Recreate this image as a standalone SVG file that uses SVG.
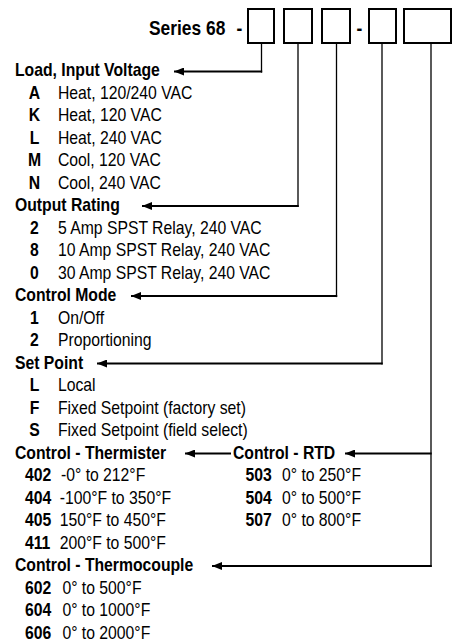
<svg xmlns="http://www.w3.org/2000/svg" width="454" height="642" viewBox="0 0 454 642">
<style>
text{font-family:"Liberation Sans",Arial,sans-serif;font-size:17.5px;fill:#000}
.b{font-weight:bold}
.c{font-weight:bold;text-anchor:middle}
.hdr{font-weight:bold;font-size:19.3px}
.box{fill:#fff;stroke:#000;stroke-width:2}
.v{stroke:#000;stroke-width:1.3;fill:none}
.h{stroke:#000;stroke-width:2.2;fill:none;marker-end:url(#ah)}
</style>
<defs>
<marker id="ah" markerUnits="userSpaceOnUse" viewBox="0 0 10 8" refX="10" refY="4" markerWidth="10" markerHeight="8" orient="auto">
<path d="M0,0 L10,4 L0,8 z" fill="#000"/>
</marker>
</defs>
<rect width="454" height="642" fill="#fff"/>
<g id="header">
<g transform="scale(0.9 1)">
<text class="hdr" x="165.6" y="35">Series 68</text>
<text class="hdr" x="266.1" y="35" text-anchor="middle">-</text>
<text class="hdr" x="399.4" y="35" text-anchor="middle">-</text>
</g>
<rect class="box" x="248" y="9" width="26" height="34"/>
<rect class="box" x="284" y="9" width="28" height="34"/>
<rect class="box" x="322" y="9" width="28" height="34"/>
<rect class="box" x="369" y="9" width="27" height="34"/>
<rect class="box" x="404" y="9" width="47" height="34"/>
</g>
<g id="connectors">
<line class="v" x1="261.5" y1="44" x2="261.5" y2="72.6"/>
<path class="h" d="M262.2,71.5 H174"/>
<line class="v" x1="298" y1="44" x2="298" y2="207.1"/>
<path class="h" d="M298.7,206 H142"/>
<line class="v" x1="336.5" y1="44" x2="336.5" y2="297.1"/>
<path class="h" d="M337.2,296 H131"/>
<line class="v" x1="382" y1="44" x2="382" y2="364.6"/>
<path class="h" d="M382.7,363.5 H97"/>
<line class="v" x1="431" y1="44" x2="431" y2="567.1"/>
<path class="h" d="M431.7,566 H212"/>
<path class="h" d="M431.7,453.5 H345"/>
<path class="h" d="M231,453.5 H185"/>
</g>
<g id="load" transform="scale(0.9 1)">
<text class="b" x="16.67" y="76.5">Load, Input Voltage</text>
<text class="c" x="38.33" y="99">A</text><text x="64.44" y="99">Heat, 120/240 VAC</text>
<text class="c" x="38.33" y="121.5">K</text><text x="64.44" y="121.5">Heat, 120 VAC</text>
<text class="c" x="38.33" y="144">L</text><text x="64.44" y="144">Heat, 240 VAC</text>
<text class="c" x="38.33" y="166.5">M</text><text x="64.44" y="166.5">Cool, 120 VAC</text>
<text class="c" x="38.33" y="189">N</text><text x="64.44" y="189">Cool, 240 VAC</text>
</g>
<g id="output" transform="scale(0.9 1)">
<text class="b" x="16.67" y="211.5">Output Rating</text>
<text class="c" x="38.33" y="234">2</text><text x="64.44" y="234">5 Amp SPST Relay, 240 VAC</text>
<text class="c" x="38.33" y="256.5">8</text><text x="64.44" y="256.5">10 Amp SPST Relay, 240 VAC</text>
<text class="c" x="38.33" y="279">0</text><text x="64.44" y="279">30 Amp SPST Relay, 240 VAC</text>
</g>
<g id="mode" transform="scale(0.9 1)">
<text class="b" x="16.67" y="301.5">Control Mode</text>
<text class="c" x="38.33" y="324">1</text><text x="64.44" y="324">On/Off</text>
<text class="c" x="38.33" y="346.5">2</text><text x="64.44" y="346.5">Proportioning</text>
</g>
<g id="setpoint" transform="scale(0.9 1)">
<text class="b" x="16.67" y="369">Set Point</text>
<text class="c" x="38.33" y="391.5">L</text><text x="64.44" y="391.5">Local</text>
<text class="c" x="38.33" y="414">F</text><text x="64.44" y="414">Fixed Setpoint (factory set)</text>
<text class="c" x="38.33" y="436.5">S</text><text x="64.44" y="436.5">Fixed Setpoint (field select)</text>
</g>
<g id="thermister" transform="scale(0.9 1)">
<text class="b" x="16.67" y="459">Control - Thermister</text>
<text class="b" x="27.78" y="481.5">402</text><text x="67.78" y="481.5">-0° to 212°F</text>
<text class="b" x="27.78" y="504">404</text><text x="66.3" y="504">-100°F to 350°F</text>
<text class="b" x="27.78" y="526.5">405</text><text x="66.3" y="526.5">150°F to 450°F</text>
<text class="b" x="27.78" y="549">411</text><text x="66.3" y="549">200°F to 500°F</text>
</g>
<g id="rtd" transform="scale(0.9 1)">
<text class="b" x="258.9" y="459">Control - RTD</text>
<text class="b" x="272.8" y="481.5">503</text><text x="313.3" y="481.5">0° to 250°F</text>
<text class="b" x="272.8" y="504">504</text><text x="313.3" y="504">0° to 500°F</text>
<text class="b" x="272.8" y="526.5">507</text><text x="313.3" y="526.5">0° to 800°F</text>
</g>
<g id="thermocouple" transform="scale(0.9 1)">
<text class="b" x="16.67" y="571.5">Control - Thermocouple</text>
<text class="b" x="27.78" y="594">602</text><text x="69.4" y="594">0° to 500°F</text>
<text class="b" x="27.78" y="616.5">604</text><text x="69.4" y="616.5">0° to 1000°F</text>
<text class="b" x="27.78" y="639">606</text><text x="69.4" y="639">0° to 2000°F</text>
</g>
</svg>
